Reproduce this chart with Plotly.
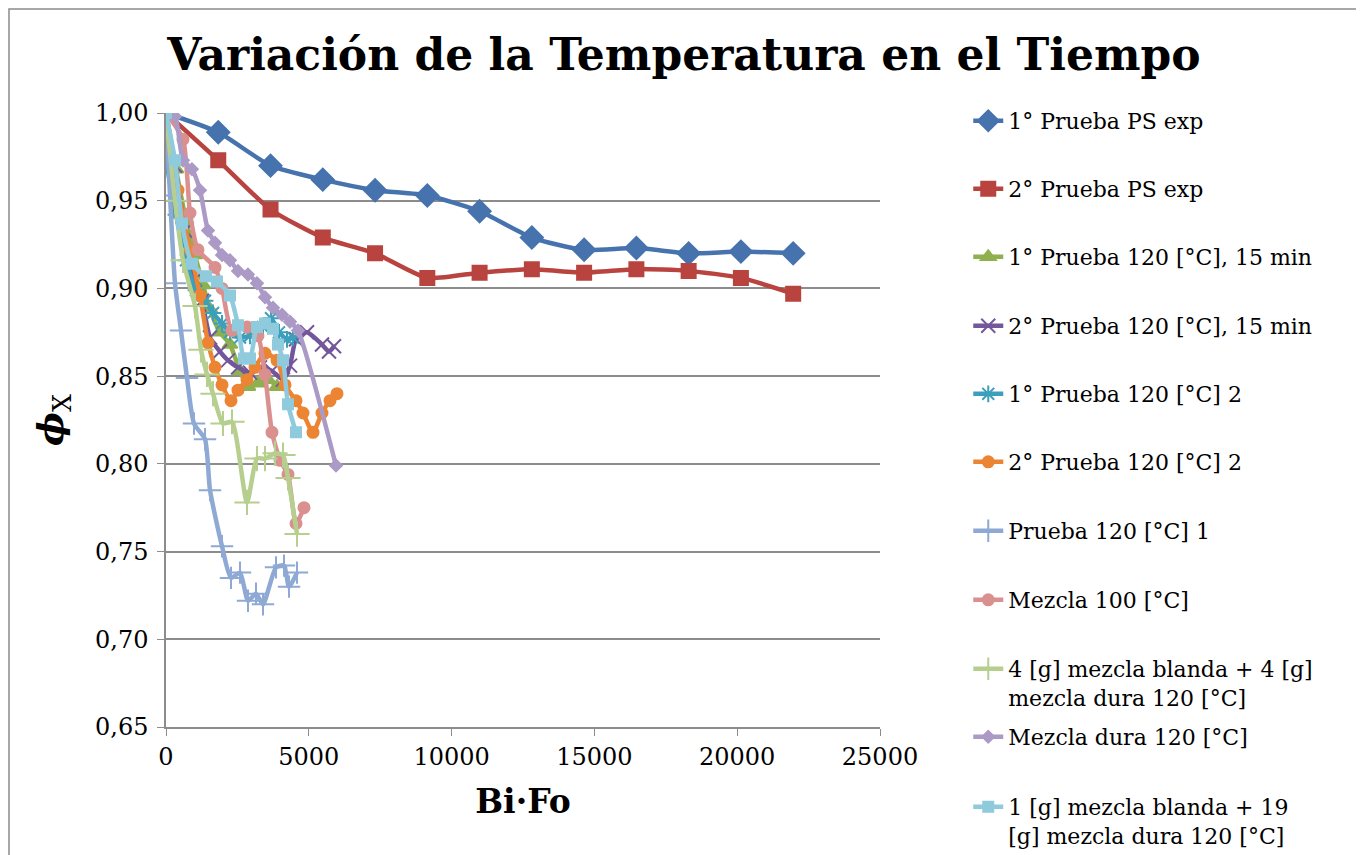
import plotly.graph_objects as go

FONT = "DejaVu Serif"
GRID = "#8c8c8c"

names = [
    "1° Prueba PS exp",
    "2° Prueba PS exp",
    "1° Prueba 120 [°C], 15 min",
    "2° Prueba 120 [°C], 15 min",
    "1° Prueba 120 [°C] 2",
    "2° Prueba 120 [°C] 2",
    "Prueba 120 [°C] 1",
    "Mezcla 100 [°C]",
    "4 [g] mezcla blanda + 4 [g]<br>mezcla dura 120 [°C]",
    "Mezcla dura 120 [°C]",
    "1 [g] mezcla blanda + 19<br>[g] mezcla dura 120 [°C]",
]

ps_x = [0, 1830, 3660, 5490, 7320, 9150, 10980, 12810, 14640, 16470, 18300, 20130, 21960]
ps1_y = [1.000, 0.989, 0.970, 0.962, 0.956, 0.953, 0.944, 0.929, 0.922, 0.923, 0.920, 0.921, 0.920]
ps2_y = [1.000, 0.973, 0.945, 0.929, 0.920, 0.906, 0.909, 0.911, 0.909, 0.911, 0.910, 0.906, 0.897]

p1_15_x = [0, 350, 700, 1015, 1296, 1540, 1891, 2241, 2591, 2871, 3221, 3571, 3887]
p1_15_y = [1.000, 0.968, 0.939, 0.919, 0.902, 0.888, 0.875, 0.868, 0.853, 0.844, 0.846, 0.848, 0.844]

p2_15_x = [0, 315, 665, 1015, 1260, 1541, 1891, 2171, 2521, 2941, 3291, 3711, 4097, 4342, 4552,
           4937, 5462, 5707, 5882]
p2_15_y = [1.000, 0.970, 0.933, 0.905, 0.893, 0.872, 0.864, 0.859, 0.855, 0.852, 0.855, 0.853,
           0.848, 0.856, 0.871, 0.875, 0.868, 0.864, 0.867]

p1_2_x = [0, 70, 350, 700, 1050, 1366, 1646, 1961, 2241, 2591, 2941, 3396, 3676, 3957, 4237, 4447]
p1_2_y = [1.000, 0.967, 0.942, 0.916, 0.899, 0.893, 0.886, 0.880, 0.875, 0.872, 0.873, 0.878,
          0.883, 0.875, 0.871, 0.872]

p2_2_x = [0, 420, 840, 1190, 1471, 1716, 1961, 2276, 2521, 2836, 3116, 3466, 3887, 4167, 4552,
          4797, 5147, 5462, 5742, 5987]
p2_2_y = [1.000, 0.956, 0.922, 0.896, 0.869, 0.855, 0.845, 0.836, 0.842, 0.848, 0.855, 0.863,
          0.859, 0.845, 0.836, 0.829, 0.818, 0.829, 0.836, 0.840]

p120_1_x = [0, 140, 315, 525, 735, 980, 1366, 1541, 1961, 2276, 2591, 2871, 3151, 3396, 3852,
            4132, 4307, 4587]
p120_1_y = [1.000, 0.953, 0.903, 0.876, 0.849, 0.823, 0.814, 0.785, 0.753, 0.735, 0.738, 0.722,
            0.726, 0.720, 0.741, 0.742, 0.730, 0.738]

m100_x = [0, 595, 840, 1120, 1716, 1961, 2311, 2836, 3221, 3466, 3711, 3992, 4272, 4552, 4832]
m100_y = [1.000, 0.985, 0.943, 0.922, 0.912, 0.900, 0.876, 0.878, 0.873, 0.851, 0.818, 0.802,
          0.794, 0.766, 0.775]

m44_x = [0, 315, 595, 1015, 1225, 1436, 1646, 1996, 2311, 2836, 3186, 3466, 3817, 4097, 4272, 4587]
m44_y = [1.000, 0.950, 0.916, 0.890, 0.865, 0.851, 0.840, 0.823, 0.824, 0.778, 0.803, 0.803,
         0.806, 0.805, 0.792, 0.760]

mdura_x = [0, 315, 595, 910, 1190, 1471, 1716, 1961, 2241, 2521, 2871, 3186, 3466, 3746, 4062,
           4342, 4622, 5952]
mdura_y = [1.000, 0.998, 0.973, 0.968, 0.956, 0.933, 0.926, 0.919, 0.916, 0.910, 0.908, 0.903,
           0.895, 0.889, 0.885, 0.881, 0.876, 0.799]

m119_x = [0, 315, 560, 910, 1401, 1786, 2241, 2521, 2731, 2941, 3186, 3466, 3746, 3922, 4097,
          4272, 4552]
m119_y = [1.000, 0.973, 0.937, 0.914, 0.907, 0.904, 0.896, 0.879, 0.860, 0.860, 0.878, 0.880,
          0.877, 0.868, 0.859, 0.834, 0.818]

xs = [ps_x, ps_x, p1_15_x, p2_15_x, p1_2_x, p2_2_x, p120_1_x, m100_x, m44_x, mdura_x, m119_x]
ys = [ps1_y, ps2_y, p1_15_y, p2_15_y, p1_2_y, p2_2_y, p120_1_y, m100_y, m44_y, mdura_y, m119_y]

colors = ["#4673ae", "#b8433f", "#8fb04e", "#73569b", "#3c9fbb", "#ec8533",
          "#8ea9d3", "#d9908e", "#b6cf8f", "#ab9ac6", "#8fcadd"]
symbols = ["diamond", "square", "triangle-up", "x-thin-open", "asterisk-open", "circle",
           "cross-thin-open", "circle", "cross-thin-open", "diamond", "square"]
sizes = [17, 14, 13, 14, 14, 11, 16, 11, 18, 9, 10]

# each legend entry gets its own legend box so the rows can sit where Excel put them
legend_rows = [122, 190, 258, 327, 395, 463, 532, 601, 670, 738, 808]

fig = go.Figure()
legends = {}
for i in range(len(names)):
    key = "legend" if i == 0 else "legend%d" % (i + 1)
    fig.add_trace(go.Scatter(
        x=xs[i], y=ys[i], name=names[i], mode="lines+markers",
        legend=key, showlegend=True,
        line=dict(color=colors[i], width=4.5, shape="spline", smoothing=0.6),
        marker=dict(symbol=symbols[i], size=sizes[i], color=colors[i],
                    line=dict(color=colors[i], width=2)),
    ))
    legends[key] = dict(x=0.704, xref="container", y=1 - (legend_rows[i] - 30) / 855,
                        yref="container", xanchor="left", yanchor="top", valign="top",
                        font=dict(size=22), bgcolor="rgba(0,0,0,0)")

fig.update_layout(
    width=1364, height=855,
    showlegend=True,
    paper_bgcolor="white", plot_bgcolor="white",
    separators=", ",
    font=dict(family=FONT, color="black", size=20),
    margin=dict(l=158, r=492, t=105, b=136),
    title=dict(text="<b>Variación de la Temperatura en el Tiempo</b>",
               x=0.4956, xref="container", y=0.945, yref="container",
               xanchor="center", yanchor="middle",
               font=dict(family=FONT, size=44, color="black")),
    xaxis=dict(range=[0, 25000], dtick=5000, tickformat="d", showgrid=False,
               showline=True, linecolor=GRID, linewidth=1.5, ticks="outside",
               ticklen=7, tickcolor=GRID, zeroline=False, automargin=False,
               tickfont=dict(size=24),
               title=dict(text="<b>Bi·Fo</b>", font=dict(size=33), standoff=20)),
    yaxis=dict(range=[0.65, 1.0], dtick=0.05, tickformat=".2f", showgrid=True,
               gridcolor=GRID, gridwidth=1.5, showline=True, linecolor=GRID,
               linewidth=1.5, ticks="outside", ticklen=7, tickcolor=GRID,
               zeroline=False, automargin=False, tickfont=dict(size=24),
               ticklabelstandoff=4,
               title=dict(text="<b><i>ϕ</i></b><sub>X</sub>", font=dict(size=36),
                          standoff=20)),
    shapes=[dict(type="rect", xref="paper", yref="paper",
                 x0=-0.2199, x1=1.668, y0=-0.25, y1=1.1694,
                 line=dict(color=GRID, width=1.5))],
    **legends,
)

fig.write_html("out.html")
